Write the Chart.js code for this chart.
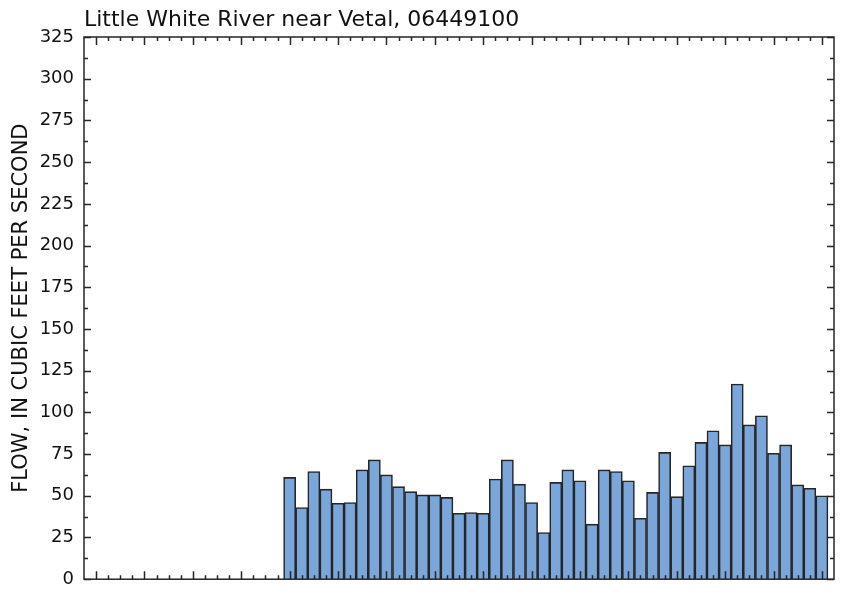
<!DOCTYPE html>
<html>
<head>
<meta charset="utf-8">
<script src="https://cdn.jsdelivr.net/npm/chart.js@4.4.1/dist/chart.umd.min.js"></script>
<style>
  body { margin: 0; background: #fff; }
  #wrap { width: 847px; height: 600px; }
</style>
</head>
<body>
<div id="wrap"><canvas id="flowChart" width="847" height="600"></canvas></div>
<script>
// slot range of the x axis (ticks at every slot, long tick every 4th)
const slotMin = -1;
const slotMax = 61;
const firstBarSlot = 16;

// flow values, ft3/s
const flow = [61, 43, 64.5, 54, 45.5, 46, 65.5, 71.5, 62.5, 55.5, 52.5, 50.5, 50.5, 49, 39.5,
              40, 39.5, 60, 71.5, 57, 46, 28, 58, 65.5, 59, 33, 65.5, 64.5, 59, 36.5,
              52, 76, 49.5, 68, 82, 89, 80.5, 117, 92.5, 98, 75.5, 80.5, 56.5, 54.5, 50];

const yTicks = [0, 25, 50, 75, 100, 125, 150, 175, 200, 225, 250, 275, 300, 325];

const chartTitle = 'Little White River near Vetal, 06449100';
const yTitle = 'FLOW, IN CUBIC FEET PER SECOND';

const points = flow.map((v, i) => ({ x: firstBarSlot + i, y: v }));

const lineColor = '#262626';

// frame, inward tick marks and the title
const framePlugin = {
    id: 'frame',
    afterDatasetsDraw(chart) {
        const ctx = chart.ctx;
        const a = chart.chartArea;
        const xs = chart.scales.x;
        const ys = chart.scales.y;
        ctx.save();
        ctx.strokeStyle = lineColor;
        ctx.lineWidth = 1.5;
        ctx.strokeRect(a.left, a.top, a.right - a.left, a.bottom - a.top);

        ctx.beginPath();
        for (let s = 0; s <= slotMax - 1; s++) {
            const px = Math.round(xs.getPixelForValue(s)) + 0.5;
            const len = s % 4 === 0 ? 8 : 4;
            ctx.moveTo(px, a.bottom);
            ctx.lineTo(px, a.bottom - len);
            ctx.moveTo(px, a.top);
            ctx.lineTo(px, a.top + len);
        }
        for (let v = 0; v <= 325; v += 12.5) {
            const py = Math.round(ys.getPixelForValue(v)) + 0.5;
            const len = v % 25 === 0 ? 7 : 4;
            ctx.moveTo(a.left, py);
            ctx.lineTo(a.left + len, py);
            ctx.moveTo(a.right, py);
            ctx.lineTo(a.right - len, py);
        }
        ctx.stroke();

        ctx.fillStyle = '#111';
        ctx.font = '22px "DejaVu Sans"';
        ctx.textBaseline = 'alphabetic';
        ctx.textAlign = 'left';
        ctx.fillText(chartTitle, a.left, 26);
        ctx.restore();
    }
};

const ctx = document.getElementById('flowChart').getContext('2d');
const flowChart = new Chart(ctx, {
    type: 'bar',
    data: {
        datasets: [{
            data: points,
            backgroundColor: '#7aa6da',
            borderColor: lineColor,
            borderWidth: 1.6,
            barPercentage: 1,
            categoryPercentage: 1
        }]
    },
    options: {
        responsive: false,
        animation: false,
        layout: { padding: { top: 37, right: 13, bottom: 12, left: 0 } },
        plugins: {
            legend: { display: false },
            tooltip: { enabled: false }
        },
        scales: {
            x: {
                type: 'linear',
                min: slotMin,
                max: slotMax,
                offset: false,
                display: false
            },
            y: {
                min: 0,
                max: 325,
                afterFit: scale => { scale.width = 84; },
                afterBuildTicks: scale => { scale.ticks = yTicks.map(v => ({ value: v })); },
                grid: { display: false, drawTicks: false },
                border: { display: false },
                ticks: {
                    padding: 10,
                    color: '#111',
                    font: { family: 'DejaVu Sans', size: 18 }
                },
                title: {
                    display: true,
                    text: yTitle,
                    color: '#111',
                    font: { family: 'DejaVu Sans', size: 21 },
                    padding: { top: 9, bottom: 0 }
                }
            }
        }
    },
    plugins: [framePlugin]
});
</script>
</body>
</html>
